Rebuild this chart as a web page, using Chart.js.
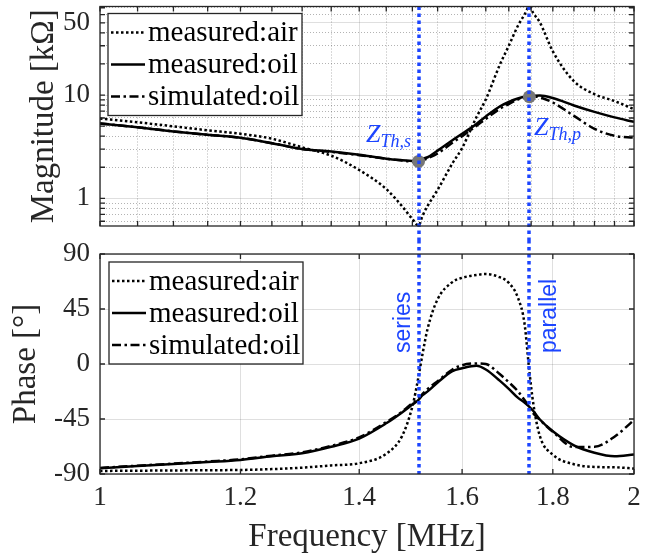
<!DOCTYPE html>
<html>
<head>
<meta charset="utf-8">
<script src="https://cdn.jsdelivr.net/npm/chart.js@4.4.1/dist/chart.umd.min.js"></script>
<style>
html, body { margin: 0; padding: 0; background: #fff; }
#wrap { position: relative; width: 655px; height: 558px; }
canvas { position: absolute; left: 0; }
</style>
</head>
<body>
<div id="wrap">
  <canvas id="magChart" width="655" height="240" style="top:0"></canvas>
  <canvas id="phaseChart" width="655" height="318" style="top:240px"></canvas>
</div>
<script>
// frequency in MHz
const freq = [1.0, 1.05, 1.1, 1.15, 1.2, 1.25, 1.3, 1.35, 1.4, 1.45, 1.48, 1.5, 1.512, 1.52, 1.53, 1.55,
              1.58, 1.6, 1.63, 1.65, 1.68, 1.7, 1.72, 1.735, 1.746, 1.755, 1.77, 1.8, 1.85, 1.9, 1.95, 2.0];

// magnitude in kOhm
const magAir = [5.94, 5.45, 4.98, 4.56, 4.22, 3.78, 3.12, 2.59, 1.88, 1.23, 0.84, 0.63, 0.545, 0.68, 0.845, 1.21,
                2.18, 3.07, 6.1, 9.07, 19.5, 30, 46.6, 60, 72, 62, 50.4, 26.5, 13.6, 10.2, 8.75, 7.28];
const magOil = [5.32, 4.87, 4.45, 4.12, 3.86, 3.42, 3.0, 2.84, 2.64, 2.42, 2.34, 2.30, 2.28, 2.42, 2.50, 2.90,
                3.65, 4.22, 5.26, 6.21, 7.75, 8.57, 9.25, 9.61, 9.75, 9.82, 9.89, 9.36, 7.93, 6.87, 6.08, 5.50];
const magSim = [5.32, 4.87, 4.45, 4.12, 3.86, 3.42, 3.0, 2.82, 2.62, 2.42, 2.32, 2.27, 2.27, 2.34, 2.44, 2.72,
                3.45, 3.99, 5.03, 5.88, 7.34, 8.19, 9.05, 9.50, 9.67, 9.7, 9.5, 8.47, 6.28, 4.71, 4.03, 3.88];

// phase in degrees
const phAir = [-87.5, -87.3, -87.1, -86.9, -86.7, -86, -84.8, -83, -81.2, -73.5, -59, -34.8, -10.4, 8.4, 29, 53,
               67, 70.5, 72.8, 73.6, 71, 66.4, 54.5, 33.2, -6, -32.5, -59, -74.2, -82, -84.2, -84.5, -85.5];
const phOil = [-85.3, -83.5, -81.8, -80.2, -78.5, -75.5, -73, -67.7, -61, -48.5, -39.6, -33.2, -29.4, -25.5, -22.4, -15.1,
               -5.8, -3.5, -1.5, -4.5, -13.6, -20.3, -27.5, -31.5, -35, -38.5, -45.4, -55, -66.5, -72.6, -75.5, -74];
const phSim = [-85, -83.2, -81.5, -79.8, -78, -75, -72.3, -67, -60, -47.5, -39, -32, -28.5, -24.5, -20.5, -14,
               -4.5, -1, 0.5, 0, -8.2, -14.9, -22.2, -29.5, -35.5, -40.4, -45.7, -55.5, -68, -67.8, -59.5, -45.8];

// series / parallel resonance points
const resFreq = [1.512, 1.746];
const resMag = [2.28, 9.63];
const resSub = ['Th,s', 'Th,p'];
const resLabels = ['series', 'parallel'];

// ticks
const freqTicks = [1, 1.2, 1.4, 1.6, 1.8, 2];
const freqMinor = [1.05, 1.1, 1.15, 1.25, 1.3, 1.35, 1.45, 1.5, 1.55, 1.65, 1.7, 1.75, 1.85, 1.9, 1.95];
const magTicks = [1, 10, 50];
const magMinor = [0.6, 0.7, 0.8, 0.9, 2, 3, 4, 5, 6, 7, 8, 9, 20, 30, 40, 60, 70];
const phaseTicks = [-90, -45, 0, 45, 90];

const serif = '"Liberation Serif", "Times New Roman", serif';
const axisColor = '#262626';
const gridMajor = 'rgba(38,38,38,0.15)';
const gridMinor = 'rgba(38,38,38,0.35)';
const blue = '#1c45ff';

const pts = ys => freq.map((f, i) => ({ x: f, y: ys[i] }));

const lineStyles = {
    air: { borderDash: [2.5, 2.5], borderWidth: 2.5 },
    oil: { borderDash: [], borderWidth: 2.5 },
    sim: { borderDash: [9, 3.5, 2.5, 3.5], borderWidth: 2.5 }
};

function curve(label, ys, style) {
    return {
        label: label,
        data: pts(ys),
        borderColor: '#000',
        backgroundColor: '#000',
        pointRadius: 0,
        fill: false,
        cubicInterpolationMode: 'monotone',
        ...style
    };
}

const isIn = (list, c) => c.tick && list.includes(c.tick.value);

function freqAxis(showLabels, minor) {
    return {
        type: 'logarithmic',
        min: 1,
        max: 2,
        afterBuildTicks: s => { s.ticks = freqTicks.concat(minor).sort((a, b) => a - b).map(v => ({ value: v })); },
        afterFit: s => { s.height = showLabels ? 84 : 14; s.paddingLeft = 0; s.paddingRight = 0; },
        grid: { drawTicks: false, lineWidth: 1, color: c => isIn(freqTicks, c) ? gridMajor : gridMinor },
        border: { display: false, dash: c => (c.tick && !freqTicks.includes(c.tick.value)) ? [1, 2] : [] },
        ticks: {
            display: showLabels, autoSkip: false, maxRotation: 0, padding: 8, color: axisColor,
            font: { family: serif, size: 27 },
            callback: v => freqTicks.includes(v) ? String(v) : ''
        },
        title: {
            display: showLabels, text: 'Frequency [MHz]', color: axisColor,
            font: { family: serif, size: 33 }, padding: { top: 0, bottom: 1 }
        }
    };
}

// box, inward tick marks
const frame = {
    id: 'frame',
    afterDraw(chart) {
        const { ctx, chartArea: a, scales: { x, y } } = chart;
        ctx.save();
        ctx.strokeStyle = axisColor;
        ctx.lineWidth = 1.3;
        ctx.setLineDash([]);
        ctx.beginPath();
        const len = 5;
        x.ticks.forEach(t => {
            const px = x.getPixelForValue(t.value);
            ctx.moveTo(px, a.bottom); ctx.lineTo(px, a.bottom - len);
            ctx.moveTo(px, a.top); ctx.lineTo(px, a.top + len);
        });
        y.ticks.forEach(t => {
            const py = y.getPixelForValue(t.value);
            ctx.moveTo(a.left, py); ctx.lineTo(a.left + len, py);
            ctx.moveTo(a.right, py); ctx.lineTo(a.right - len, py);
        });
        ctx.stroke();
        ctx.strokeRect(a.left, a.top, a.width, a.height);
        ctx.restore();
    }
};

// blue dotted lines at the resonances, running through the gap between the plots
const resonance = {
    id: 'resonance',
    afterDatasetsDraw(chart, args, opts) {
        const { ctx, chartArea: a, scales: { x } } = chart;
        ctx.save();
        ctx.strokeStyle = blue;
        ctx.lineWidth = 3.5;
        ctx.setLineDash([3.5, 3.5]);
        resFreq.forEach(f => {
            const px = Math.round(x.getPixelForValue(f));
            ctx.beginPath();
            ctx.moveTo(px, opts.upper ? a.top : 0);
            ctx.lineTo(px, opts.upper ? chart.height : a.bottom);
            ctx.stroke();
        });
        ctx.restore();
    }
};

const legendBox = {
    id: 'legendBox',
    afterDraw(chart, args, opts) {
        const { ctx, chartArea: a } = chart;
        const items = chart.data.datasets.filter(d => d.label);
        const bx = a.left + opts.dx, by = a.top + opts.dy;
        ctx.save();
        ctx.fillStyle = '#fff';
        ctx.fillRect(bx, by, 194, 102);
        ctx.strokeStyle = axisColor;
        ctx.lineWidth = 1.3;
        ctx.setLineDash([]);
        ctx.strokeRect(bx, by, 194, 102);
        ctx.font = '29px ' + serif;
        ctx.textBaseline = 'middle';
        items.forEach((d, i) => {
            const ry = by + 19 + i * 32;
            ctx.strokeStyle = '#000';
            ctx.lineWidth = d.borderWidth;
            ctx.setLineDash(d.borderDash);
            ctx.beginPath();
            ctx.moveTo(bx + 3, ry);
            ctx.lineTo(bx + 37, ry);
            ctx.stroke();
            ctx.fillStyle = '#000';
            ctx.fillText(d.label, bx + 40, ry + 1);
        });
        ctx.restore();
    }
};

const zLabels = {
    id: 'zLabels',
    afterDraw(chart) {
        const { ctx, scales: { x, y } } = chart;
        const offsets = [[-52.5, -19.7], [4.6, 37.8]];
        ctx.save();
        ctx.fillStyle = blue;
        ctx.textBaseline = 'alphabetic';
        resFreq.forEach((f, i) => {
            const px = x.getPixelForValue(f) + offsets[i][0];
            const py = y.getPixelForValue(resMag[i]) + offsets[i][1];
            ctx.font = 'italic 26px ' + serif;
            ctx.fillText('Z', px, py);
            const w = ctx.measureText('Z').width;
            ctx.font = 'italic 18px ' + serif;
            ctx.fillText(resSub[i], px + w, py + 5);
        });
        ctx.restore();
    }
};

const resText = {
    id: 'resText',
    afterDraw(chart) {
        const { ctx, scales: { x } } = chart;
        const dx = [-8.5, 26.6];
        ctx.save();
        ctx.fillStyle = blue;
        ctx.font = '23px "Liberation Sans", Arial, sans-serif';
        ctx.textAlign = 'left';
        ctx.textBaseline = 'alphabetic';
        resFreq.forEach((f, i) => {
            ctx.save();
            ctx.translate(x.getPixelForValue(f) + dx[i], 113);
            ctx.rotate(-Math.PI / 2);
            ctx.fillText(resLabels[i], 0, 0);
            ctx.restore();
        });
        ctx.restore();
    }
};

const commonOptions = {
    responsive: false,
    devicePixelRatio: 1,
    animation: false,
    events: []
};

new Chart(document.getElementById('magChart'), {
    type: 'line',
    data: {
        datasets: [
            { data: resFreq.map((f, i) => ({ x: f, y: resMag[i] })), showLine: false, pointRadius: 6.5,
              pointBackgroundColor: '#777', pointBorderWidth: 0, order: -1 },
            curve('measured:air', magAir, lineStyles.air),
            curve('measured:oil', magOil, lineStyles.oil),
            curve('simulated:oil', magSim, lineStyles.sim)
        ]
    },
    options: {
        ...commonOptions,
        layout: { padding: { top: 5, right: 21, left: 0, bottom: 0 } },
        plugins: {
            legend: { display: false },
            tooltip: { enabled: false },
            resonance: { upper: true },
            legendBox: { dx: 8, dy: 7 }
        },
        scales: {
            x: freqAxis(false, freqMinor),
            y: {
                type: 'logarithmic',
                min: 0.54,
                max: 72,
                afterBuildTicks: s => { s.ticks = magTicks.concat(magMinor).sort((a, b) => a - b).map(v => ({ value: v })); },
                afterFit: s => { s.width = 100; s.paddingTop = 0; s.paddingBottom = 0; },
                grid: { drawTicks: false, lineWidth: 1, color: c => isIn(magTicks, c) ? gridMajor : gridMinor },
                border: { display: false, dash: c => (c.tick && !magTicks.includes(c.tick.value)) ? [1, 2] : [] },
                ticks: {
                    autoSkip: false, padding: 10, color: axisColor, font: { family: serif, size: 27, lineHeight: 1 },
                    callback: v => magTicks.includes(v) ? String(v) : ''
                },
                title: {
                    display: true, text: 'Magnitude [kΩ]', color: axisColor,
                    font: { family: serif, size: 33 }, padding: { top: 25 }
                }
            }
        }
    },
    plugins: [resonance, frame, legendBox, zLabels]
});

new Chart(document.getElementById('phaseChart'), {
    type: 'line',
    data: {
        datasets: [
            curve('measured:air', phAir, lineStyles.air),
            curve('measured:oil', phOil, lineStyles.oil),
            curve('simulated:oil', phSim, lineStyles.sim)
        ]
    },
    options: {
        ...commonOptions,
        layout: { padding: { top: 14, right: 21, left: 0, bottom: 0 } },
        plugins: {
            legend: { display: false },
            tooltip: { enabled: false },
            resonance: { upper: false },
            legendBox: { dx: 9, dy: 8 }
        },
        scales: {
            x: freqAxis(true, []),
            y: {
                min: -90,
                max: 90,
                afterBuildTicks: s => { s.ticks = phaseTicks.map(v => ({ value: v })); },
                afterFit: s => { s.width = 100; s.paddingTop = 0; s.paddingBottom = 0; },
                grid: { drawTicks: false, lineWidth: 1, color: gridMajor },
                border: { display: false },
                ticks: { autoSkip: false, padding: 10, color: axisColor, font: { family: serif, size: 27, lineHeight: 1 } },
                title: {
                    display: true, text: 'Phase [°]', color: axisColor,
                    font: { family: serif, size: 33 }, padding: { top: 7 }
                }
            }
        }
    },
    plugins: [resonance, frame, legendBox, resText]
});
</script>
</body>
</html>
